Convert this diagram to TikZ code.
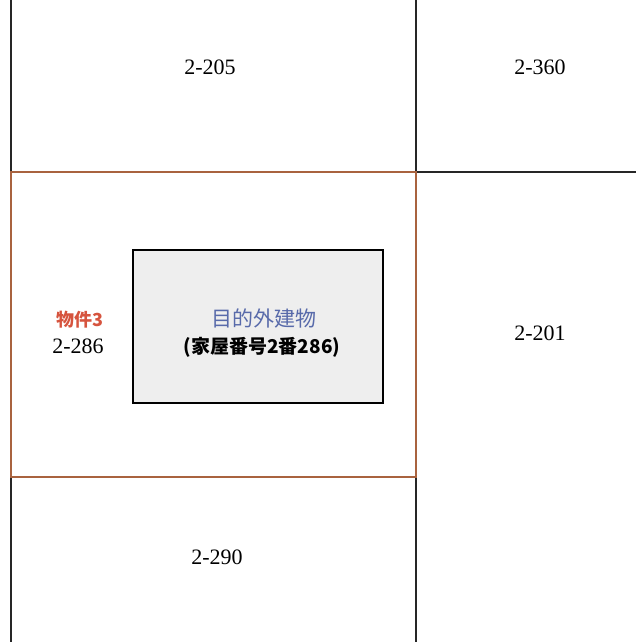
\documentclass[tikz,border=0pt]{standalone}
\usepackage{fontspec}
\setmainfont{Liberation Serif}
\newfontfamily\jpfont{Noto Sans CJK JP}
\definecolor{lotorange}{RGB}{214,120,72}
\definecolor{lotred}{RGB}{214,84,62}
\definecolor{bldblue}{RGB}{88,106,170}
\definecolor{bldgray}{RGB}{238,238,238}
\tikzset{
  lotline/.style={line width=1.4pt, black!85},
  lotedge/.style={line width=1.8pt, lotorange, opacity=0.75},
  lotno/.style={font=\fontsize{22}{24}\selectfont},
  bldbox/.style={draw, fill=bldgray, line width=1.3pt},
}
\begin{document}
\begin{tikzpicture}[x=1pt, y=1pt]
\useasboundingbox (0,0) rectangle (636,642);
% lot boundaries
\coordinate (tl) at (11,470);
\coordinate (tr) at (416,470);
\coordinate (bl) at (11,165);
\coordinate (br) at (416,165);
\draw[lotline] (11,642) -- (11,0);
\draw[lotline] (416,642) -- (416,0);
\draw[lotline] (tl) -- (636,470);
\draw[lotline] (bl) -- (br);
\draw[lotedge] (tl) rectangle (br);
% building
\draw[bldbox] (133,392) rectangle (383,239);
\node (bname) at (264,323) {\jpfont\fontsize{21}{23}\selectfont\color{bldblue}目的外建物};
\node (bno) at (262,295) {\jpfont\bfseries\fontsize{19}{21}\selectfont (家屋番号2番286)};
% lot numbers
\node[lotno] (l205) at (210,575) {2-205};
\node[lotno] (l360) at (540,575) {2-360};
\node (item) at (80,322) {\jpfont\bfseries\fontsize{18}{20}\selectfont\color{lotred}物件3};
\node[lotno] (l286) at (78,296) {2-286};
\node[lotno] (l201) at (540,309) {2-201};
\node[lotno] (l290) at (217,85) {2-290};
\end{tikzpicture}
\end{document}
